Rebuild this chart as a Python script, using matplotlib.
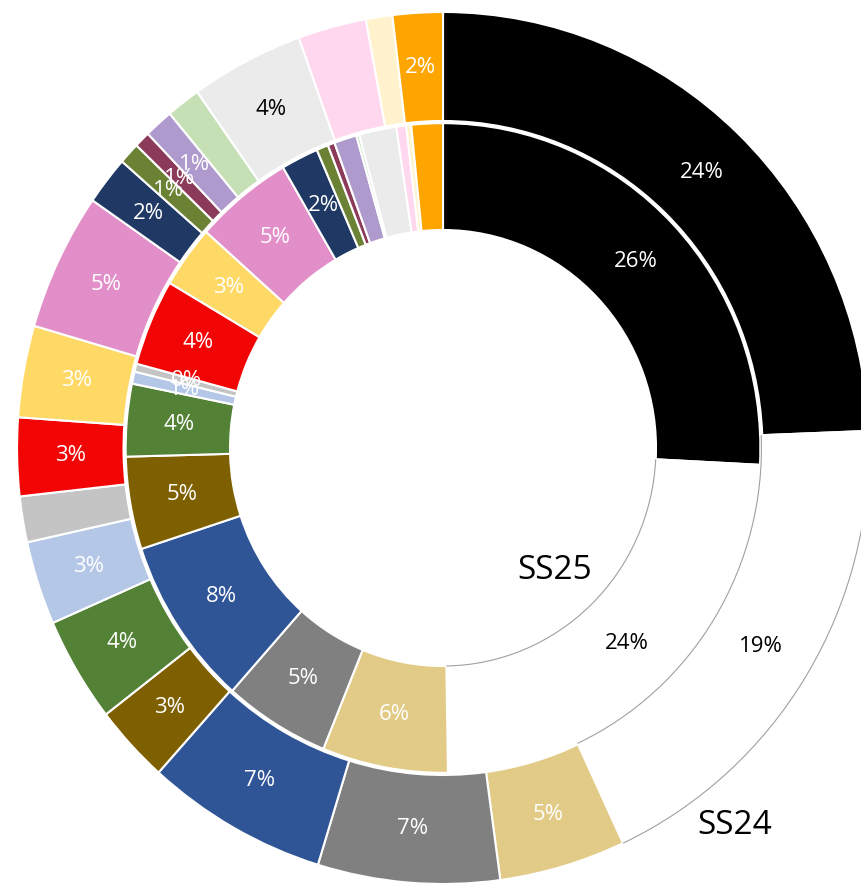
"""Two-ring doughnut: SS25 (inner) vs SS24 (outer) share by category."""

import numpy as np
import matplotlib
matplotlib.use('Agg')
import matplotlib.pyplot as plt
from matplotlib.patches import Arc

plt.rcParams['font.family'] = ['Open Sans', 'DejaVu Sans']

# --- Data (percent, clockwise from 12 o'clock) ---
categories = [
    'black', 'white', 'gold', 'grey', 'blue', 'brown', 'green', 'light blue',
    'light grey', 'red', 'yellow', 'pink', 'navy', 'olive', 'maroon',
    'lavender', 'light green', 'pale grey', 'light pink', 'cream', 'orange',
]
colors = [
    '#000000', '#FFFFFF', '#E2CB87', '#808080', '#2F5597', '#7F6000',
    '#538135', '#B4C7E7', '#C4C4C4', '#F20505', '#FFD966', '#E28FC9',
    '#1F3864', '#6B8235', '#8B3A5A', '#AE9ACC', '#C5E0B4', '#EBEBEB',
    '#FFD7EE', '#FFF2CC', '#FFA500',
]
ss24 = [24.4, 18.7, 4.8, 6.9, 6.9, 2.9, 3.9, 3.1, 1.7, 2.9, 3.4, 5.1,
        1.8, 0.8, 0.6, 1.1, 1.3, 4.3, 2.6, 1.0, 1.9]
ss25 = [25.8, 23.9, 6.4, 5.4, 8.4, 4.6, 3.6, 0.6, 0.4, 4.3, 3.1, 5.0,
        1.9, 0.6, 0.35, 1.15, 0.15, 1.9, 0.5, 0.25, 1.6]
# which slices carry a % label
ss24_show = [1, 1, 1, 1, 1, 1, 1, 1, 0, 1, 1, 1, 1, 1, 1, 1, 0, 1, 0, 0, 1]
ss25_show = [1, 1, 1, 1, 1, 1, 1, 1, 1, 1, 1, 1, 1, 0, 0, 0, 0, 0, 0, 0, 0]
dark_text = {'white', 'pale grey'}

fig = plt.figure(figsize=(8.62, 8.84), dpi=100)
ax = fig.add_axes([0, 0, 1, 1])

rings = [
    (ss24, ss24_show, 1.0, 0.25),    # outer ring
    (ss25, ss25_show, 0.745, 0.245),  # inner ring
]
white_idx = categories.index('white')
white_span = []   # (start, end) fraction of the white slice per ring

for values, show, radius, width in rings:
    ax.pie(values, colors=colors, startangle=90, counterclock=False,
           radius=radius,
           wedgeprops=dict(width=width, edgecolor='white', linewidth=1.5))

    # labels at the middle of each slice
    vals = np.array(values)
    cum = np.cumsum(vals) / vals.sum()
    start = cum - vals / vals.sum()
    mid = (cum + start) / 2
    white_span.append((start[white_idx], cum[white_idx]))
    r_lab = radius - width / 2
    for m, v, s, cat in zip(mid, values, show, categories):
        if not s:
            continue
        ang = np.deg2rad(90 - 360 * m)
        ax.text(r_lab * np.cos(ang), r_lab * np.sin(ang), f'{v:.0f}%',
                ha='center', va='center', fontsize=16, zorder=5,
                color='black' if cat in dark_text else 'white')


def grey_arc(r, f0, f1):
    # fractions measured clockwise from 12 o'clock -> matplotlib angles
    a0, a1 = 90 - 360 * f1, 90 - 360 * f0
    ax.add_patch(Arc((0, 0), 2 * r, 2 * r, theta1=a0, theta2=a1,
                     color='#A0A0A0', lw=0.8, zorder=4))


(o0, o1), (i0, i1) = white_span
grey_arc(1.0, o0, o1)        # outer edge of SS24 white slice
grey_arc(0.7475, o0, o1)     # shared edge between the two white slices
grey_arc(0.5, i0, i1)        # hole edge of SS25 white slice

ax.text(0.263, -0.280, 'SS25', ha='center', va='center', fontsize=24, zorder=5)
ax.text(0.685, -0.865, 'SS24', ha='center', va='center', fontsize=24, zorder=5)

# crop like the reference (ring runs off the right and bottom edge)
ax.set_aspect('auto')
ax.set_xlim(-1.040, 0.9836)
ax.set_ylim(-1.0, 1.0275)
ax.axis('off')

plt.savefig('out.png', dpi=100)
